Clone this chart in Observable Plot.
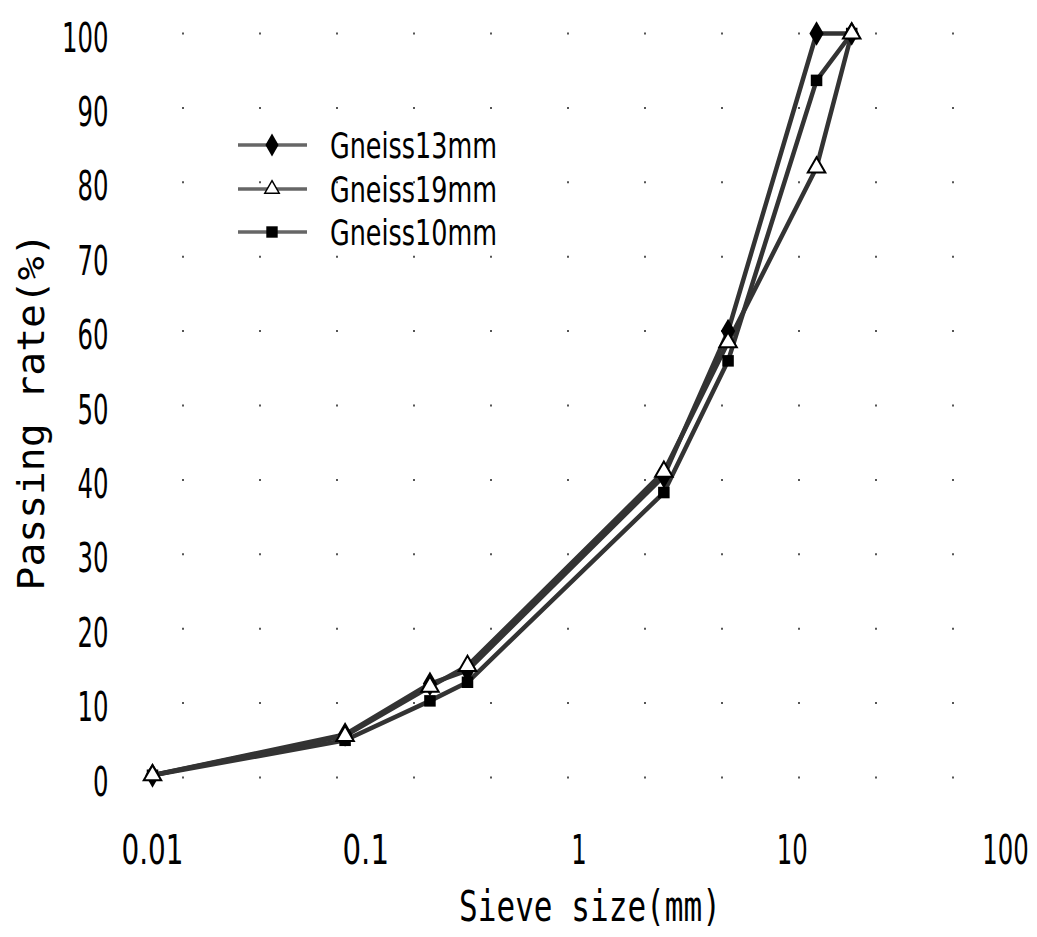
<!DOCTYPE html>
<html><head><meta charset="utf-8">
<script src="https://cdn.jsdelivr.net/npm/d3@7"></script>
<script src="https://cdn.jsdelivr.net/npm/@observablehq/plot@0.6"></script>
<style>
body{margin:0;background:#fff;}
#wrap{position:relative;width:1037px;height:937px;background:#fff;}
#legend{position:absolute;left:230px;top:120px;}
</style></head><body><div id="wrap"></div>
<script>
// ---- data ----
const sieve = [0.01, 0.08, 0.2, 0.3, 2.5, 5, 13, 19];
const seriesNames = ["Gneiss13mm", "Gneiss19mm", "Gneiss10mm"];
const gneiss13 = [0.3, 5.8, 12.6, 14.4, 40.5, 60.0, 100, 100];
const gneiss19 = [0.3, 5.6, 12.2, 15.0, 41.1, 58.5, 82.0, 100];
const gneiss10 = [0.3, 5.0, 10.3, 12.8, 38.3, 56.0, 93.7, 100];
const xTicks = [0.01, 0.1, 1, 10, 100];
const xTickLabels = ["0.01", "0.1", "1", "10", "100"];
const yTicks = [0, 10, 20, 30, 40, 50, 60, 70, 80, 90, 100];
const yLabel = "Passing rate(%)";
const xLabel = "Sieve size(mm)";

const values = [gneiss13, gneiss19, gneiss10];
const rows = [];
seriesNames.forEach((s, i) => values[i].forEach((v, j) => rows.push({series: s, size: sieve[j], rate: v})));
const bySeries = s => rows.filter(d => d.series === s);

const plot = Plot.plot({
  width: 1037, height: 937,
  marginLeft: 152, marginRight: 32, marginTop: 33, marginBottom: 160,
  x: {type: "log", domain: [0.01, 100]},
  y: {domain: [0, 100]},
  style: {fontFamily: "DejaVu Sans", background: "white", color: "black"},
  marks: [
    Plot.gridY(yTicks, {stroke: "#555", strokeOpacity: 1, strokeWidth: 2, strokeDasharray: "2,75", strokeDashoffset: -30}),
    Plot.axisX(xTicks, {tickSize: 0, tickPadding: 57, fontSize: 41, label: null,
      tickFormat: d => xTickLabels[xTicks.indexOf(d)]}),
    Plot.axisY(yTicks, {tickSize: 0, tickPadding: 44, fontSize: 41, dy: 5, label: null}),
    Plot.line(rows, {x: "size", y: "rate", z: "series", stroke: "#333", strokeWidth: 4.5}),
    Plot.dot(bySeries("Gneiss13mm"), {x: "size", y: "rate", symbol: "diamond", r: 7.5, fill: "black"}),
    Plot.dot(bySeries("Gneiss10mm"), {x: "size", y: "rate", symbol: "square", r: 6.5, fill: "black"}),
    Plot.dot(bySeries("Gneiss19mm"), {x: "size", y: "rate", symbol: "triangle", r: 6.5, fill: "white", stroke: "black", strokeWidth: 2}),
    Plot.text([yLabel], {frameAnchor: "left", textAnchor: "middle", dx: -121, dy: 6, rotate: -90, lineAnchor: "middle",
      fontSize: 38, fontFamily: "DejaVu Sans Mono", fill: "black"}),
    Plot.text([xLabel], {frameAnchor: "bottom", textAnchor: "middle", dx: 11, dy: 130, lineAnchor: "middle",
      fontSize: 42, fontFamily: "DejaVu Sans Mono", fill: "black"})
  ]
});

const wrap = document.getElementById("wrap");
wrap.appendChild(plot);

// condense a text horizontally around its anchor to imitate the narrow original glyphs
function condense(t, w) {
  const nat = t.getComputedTextLength();
  if (!nat) return;
  const sx = w / nat;
  const ax = parseFloat(t.getAttribute("x") || 0) || 0;
  const tr = t.getAttribute("transform") || "";
  t.setAttribute("transform", `${tr} translate(${ax},0) scale(${sx},1) translate(${-ax},0)`);
}
plot.querySelectorAll("text").forEach(t => {
  const s = t.textContent;
  if (/^[\d.]+$/.test(s)) condense(t, 15.5 * s.length);
  else if (s === yLabel) condense(t, 358);
  else if (s === xLabel) condense(t, 262);
});

// legend (inside the plot area, upper left)
const symbols = [d3.symbolDiamond, d3.symbolTriangle, d3.symbolSquare];
const symSizes = [150, 90, 130];
const symFill = ["black", "white", "black"];
const rowY = [25, 69, 112];
const lg = d3.select(wrap).append("svg").attr("id", "legend").attr("width", 420).attr("height", 140);
seriesNames.forEach((s, i) => {
  const g = lg.append("g").attr("transform", `translate(0,${rowY[i]})`);
  g.append("line").attr("x1", 8).attr("x2", 77).attr("y1", 0).attr("y2", 0)
    .attr("stroke", "#666").attr("stroke-width", 3.5);
  g.append("path").attr("transform", "translate(42,0)")
    .attr("d", d3.symbol(symbols[i], symSizes[i])())
    .attr("fill", symFill[i]).attr("stroke", "black").attr("stroke-width", i === 1 ? 1.5 : 0);
  const t = g.append("text").attr("x", 0).attr("y", 0).text(s)
    .attr("transform", "translate(100,13)")
    .attr("font-family", "DejaVu Sans").attr("font-size", 36);
  condense(t.node(), 167);
});
</script></body></html>
